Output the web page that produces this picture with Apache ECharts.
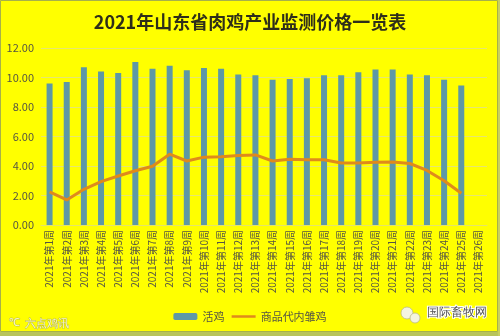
<!DOCTYPE html>
<html>
<head>
<meta charset="utf-8">
<script src="https://cdn.jsdelivr.net/npm/echarts@6/dist/echarts.min.js"></script>
<style>
  html, body { margin: 0; padding: 0; background: #ffff00; }
  #chart { width: 500px; height: 336px; }
</style>
</head>
<body>
<div id="chart"></div>
<script>
// Weekly monitoring prices, Shandong broiler industry, 2021
const weeks = [];
for (let i = 1; i <= 26; i++) weeks.push('2021年第' + i + '周');

// 活鸡 (live broiler) price per week
const liveChicken = [9.6, 9.7, 10.7, 10.4, 10.3, 11.05, 10.6, 10.8, 10.5, 10.65,
                     10.6, 10.2, 10.15, 9.85, 9.9, 9.95, 10.15, 10.15, 10.35, 10.55,
                     10.55, 10.2, 10.15, 9.85, 9.45, null];

// 商品代肉雏鸡 (commercial chick) price per week
const chickPrice = [2.25, 1.7, 2.42, 2.94, 3.32, 3.68, 3.98, 4.8, 4.34, 4.6,
                    4.63, 4.72, 4.75, 4.34, 4.45, 4.42, 4.42, 4.2, 4.2, 4.25,
                    4.27, 4.17, 3.7, 3.0, 2.15, null];

const yTicks = { min: 0, max: 12, interval: 2 };

const chart = echarts.init(document.getElementById('chart'));
chart.setOption({
  backgroundColor: '#ffff00',
  animation: false,
  textStyle: { fontFamily: '"Noto Sans CJK SC", "Noto Sans", sans-serif' },
  title: {
    text: '2021年山东省肉鸡产业监测价格一览表',
    left: 'center',
    top: 8,
    textStyle: {
      fontSize: 18,
      fontWeight: 'bold',
      color: '#2e2e1a',
      fontFamily: '"Noto Sans CJK SC", sans-serif'
    }
  },
  grid: { left: 41, right: 13, top: 48, bottom: 111 },
  legend: {
    bottom: 9,
    left: 'center',
    itemWidth: 24,
    itemHeight: 7,
    itemGap: 6,
    textStyle: { fontSize: 11, color: '#555544' },
    data: [
      { name: '活鸡' },
      { name: '商品代内雏鸡', itemStyle: { opacity: 0 }, lineStyle: { width: 2.5 } }
    ]
  },
  xAxis: {
    type: 'category',
    data: weeks,
    axisTick: { show: false },
    axisLine: { show: true, lineStyle: { color: '#e4e46a', width: 1 } },
    axisLabel: {
      interval: 0,
      rotate: 90,
      fontSize: 10,
      color: '#555544',
      margin: 5
    }
  },
  yAxis: {
    type: 'value',
    min: yTicks.min,
    max: yTicks.max,
    interval: yTicks.interval,
    axisLine: { show: false },
    axisTick: { show: false },
    axisLabel: {
      fontSize: 11,
      color: '#555544',
      margin: 7,
      formatter: v => v.toFixed(2)
    },
    splitLine: { lineStyle: { color: '#e6e670', width: 1 } }
  },
  series: [
    {
      name: '活鸡',
      type: 'bar',
      data: liveChicken,
      barWidth: 6,
      itemStyle: { color: '#5e98a6' }
    },
    {
      name: '商品代内雏鸡',
      type: 'line',
      data: chickPrice,
      symbol: 'none',
      lineStyle: { color: '#df8a1c', width: 3 },
      itemStyle: { color: '#df8a1c' }
    }
  ],
  graphic: [
    {
      type: 'rect',
      shape: { x: 0.5, y: 0.5, width: 497, height: 331 },
      style: { fill: 'none', stroke: '#a6b04a', lineWidth: 1 },
      silent: true
    },
    {
      type: 'rect',
      shape: { x: 0, y: 332, width: 500, height: 4 },
      style: { fill: '#b8c45a' },
      silent: true
    },
    {
      type: 'rect',
      shape: { x: 498, y: 0, width: 2, height: 336 },
      style: { fill: '#c8cf60' },
      silent: true
    },
    {
      type: 'text',
      left: 24,
      top: 318,
      style: {
        text: '六点鸡讯',
        fontSize: 11,
        fill: 'rgba(255,255,230,0.85)',
        stroke: 'rgba(150,150,90,0.6)',
        lineWidth: 1
      },
      silent: true
    },
    {
      type: 'text',
      left: 8,
      top: 317,
      style: {
        text: '℃',
        fontSize: 11,
        fill: 'rgba(255,255,230,0.85)',
        stroke: 'rgba(150,150,90,0.6)',
        lineWidth: 1
      },
      silent: true
    },
    {
      type: 'circle',
      shape: { cx: 407, cy: 313, r: 6 },
      style: { fill: '#f4f4e0', stroke: '#bbbb88', lineWidth: 0.8 },
      silent: true
    },
    {
      type: 'circle',
      shape: { cx: 415, cy: 318, r: 5 },
      style: { fill: '#f4f4e0', stroke: '#bbbb88', lineWidth: 0.8 },
      silent: true
    },
    {
      type: 'text',
      left: 426,
      top: 306,
      style: {
        text: '国际畜牧网',
        fontSize: 12,
        fill: '#555555',
        stroke: '#ffffff',
        lineWidth: 2
      },
      silent: true
    }
  ]
});
</script>
</body>
</html>
